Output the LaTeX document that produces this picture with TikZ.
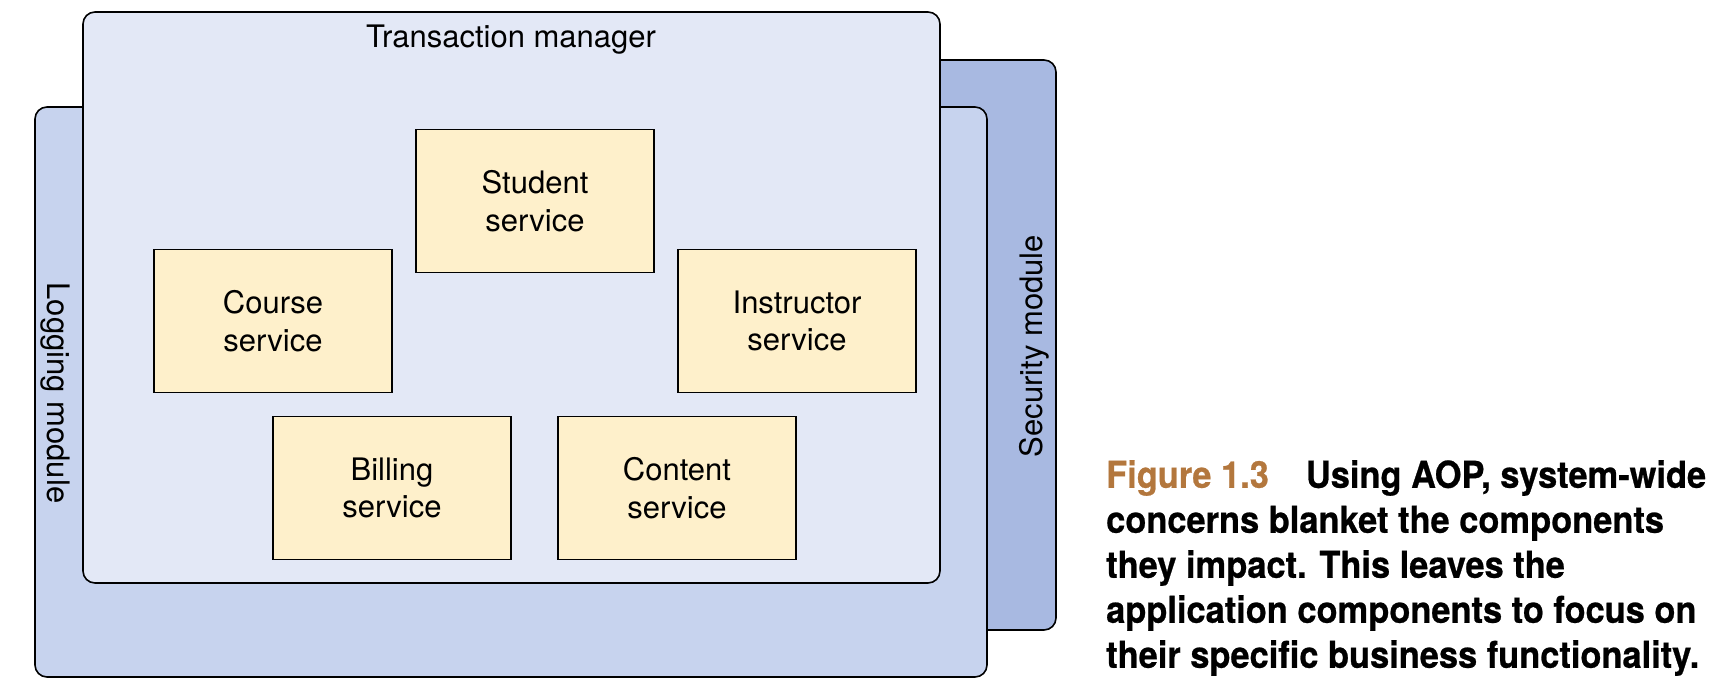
\documentclass[tikz,border=0pt]{standalone}
\usepackage{fontspec}
\setmainfont{TeX Gyre Heros}
\newfontfamily\capfont[FakeStretch=0.93,FakeBold=0.6]{TeX Gyre Heros}
\usepackage{xcolor}
\usetikzlibrary{positioning}
\definecolor{tmfill}{HTML}{E3E8F6}
\definecolor{logfill}{HTML}{C7D3EE}
\definecolor{secfill}{HTML}{A8B9E1}
\definecolor{svcfill}{HTML}{FEF0CB}
\definecolor{figbrown}{HTML}{B3773D}
\tikzset{
    layer/.style={
           rectangle,
           rounded corners=12pt,
           draw=black, line width=1.6pt,
           inner sep=0pt,
           },
    service/.style={
           rectangle,
           fill=svcfill,
           draw=black, line width=1.4pt,
           minimum width=238pt,
           minimum height=143pt,
           inner sep=2pt,
           align=center,
           font=\fontsize{31}{37.5}\selectfont,
           },
    layerlabel/.style={
           inner sep=0pt,
           font=\fontsize{31}{37.5}\selectfont,
           },
}

\begin{document}
\begin{tikzpicture}[x=1pt, y=-1pt]
	\useasboundingbox (0,0) rectangle (1734,691);
	
	% aspect layers, back to front
	\node[layer, fill=secfill, minimum width=556pt, minimum height=570pt] (security) at (778,345) {};
	\node[layer, fill=logfill, minimum width=952pt, minimum height=570pt] (logging) at (511,392) {};
	\node[layer, fill=tmfill, minimum width=857pt, minimum height=571pt] (trans) at (511.5,297.5) {};
	
	\node[layerlabel] (translabel) at (511,40) {Transaction manager};
	\node[layerlabel, rotate=-90] (loglabel) at (55,393) {Logging module};
	\node[layerlabel, rotate=90] (seclabel) at (1034,346) {Security module};
	
	% application components
	\node[service] (student) at (535,201) {Student\\service};
	\node[service] (course) at (273,321) {Course\\service};
	\node[service] (instructor) at (797,321) {Instructor\\service};
	\node[service] (billing) at (392,488) {Billing\\service};
	\node[service] (content) at (677,488) {Content\\service};
	
	% caption
	\node[anchor=north west, inner sep=0pt, align=left,
	      font=\capfont\bfseries\fontsize{37}{45}\selectfont] (caption) at (1106,460) {
		{\color{figbrown}Figure 1.3}\hspace{1em}Using AOP, system-wide\\
		concerns blanket the components\\
		they impact. This leaves the\\
		application components to focus on\\
		their specific business functionality.
	};

\end{tikzpicture}
\end{document}
